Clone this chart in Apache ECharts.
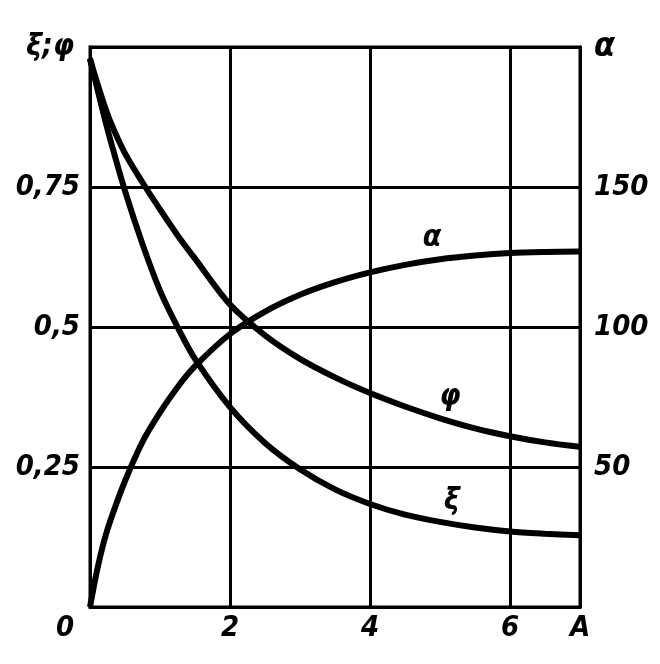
<!DOCTYPE html>
<html>
<head>
<meta charset="utf-8">
<script src="https://cdn.jsdelivr.net/npm/echarts@6/dist/echarts.min.js"></script>
<style>html,body{margin:0;padding:0;background:#fff}#c{width:660px;height:664px}</style>
</head>
<body>
<div id="c"></div>
<script>
// Abscissa (A)
const xVals = [0, 0.1, 0.2, 0.3, 0.5, 0.75, 1, 1.25, 1.5, 2, 2.5, 3, 3.5, 4, 4.5, 5, 5.5, 6, 6.5, 7];
// ξ (left axis)
const xiVals = [0.98, 0.928, 0.877, 0.83, 0.743, 0.648, 0.565, 0.5, 0.443, 0.357, 0.293, 0.246, 0.21, 0.184, 0.165, 0.152, 0.142, 0.135, 0.131, 0.128];
// φ (left axis)
const phiVals = [0.978, 0.937, 0.898, 0.864, 0.81, 0.758, 0.71, 0.664, 0.622, 0.54, 0.485, 0.443, 0.41, 0.382, 0.358, 0.337, 0.319, 0.305, 0.294, 0.286];
// α (right axis)
const alphaVals = [0, 13, 23.5, 31.5, 45, 59, 69.5, 78.5, 86, 97.5, 105.5, 111.5, 116, 119.5, 122.2, 124.2, 125.5, 126.4, 126.8, 127];
// tick labels
const leftTicks = {0.25: '0,25', 0.5: '0,5', 0.75: '0,75'};
const rightTicks = {50: '50', 100: '100', 150: '150'};
const xTicks = {0: '0', 2: '2', 4: '4', 6: '6', 7: 'A'};
const seriesNames = ['ξ', 'φ', 'α'];
const leftName = 'ξ;φ';
const rightName = 'α';
const labelIndex = 15; // point near which curve names are written

const FONT = "'DejaVu Sans Condensed', 'DejaVu Sans', sans-serif";
const txt = {color: '#000', fontFamily: FONT, fontWeight: 'bold', fontStyle: 'italic', fontSize: 29};

function build(ys, name, yAxisIndex, labelOffset) {
  return {
    name: name,
    type: 'line',
    yAxisIndex: yAxisIndex,
    smooth: 0.3,
    symbol: 'circle',
    symbolSize: 0,
    showSymbol: true,
    showAllSymbol: true,
    lineStyle: {color: '#000', width: 6},
    itemStyle: {color: '#000'},
    data: xVals.map((x, i) => {
      const d = {value: [x, ys[i]]};
      if (i === labelIndex) {
        d.label = {show: true, position: 'top', distance: 6, offset: labelOffset, formatter: name, ...txt, fontSize: 30};
      }
      return d;
    })
  };
}

const chart = echarts.init(document.getElementById('c'), null, {renderer: 'canvas'});
chart.setOption({
  backgroundColor: '#fff',
  animation: false,
  grid: {left: 90, top: 47, right: 80, bottom: 57, show: true, borderColor: '#000', borderWidth: 3},
  xAxis: {
    type: 'value', min: 0, max: 7, interval: 2,
    axisLine: {show: true, lineStyle: {color: '#000', width: 3}},
    axisTick: {show: false},
    splitLine: {show: true, lineStyle: {color: '#000', width: 3}},
    axisLabel: {
      margin: 7, ...txt,
      formatter: v => v === 0 ? '{o|0}' : (xTicks[v] || ''),
      rich: {o: {...txt, padding: [0, 50, 0, 0]}}
    }
  },
  yAxis: [{
    type: 'value', min: 0, max: 1, interval: 0.25,
    name: leftName, nameLocation: 'end', nameGap: 0,
    nameTextStyle: {...txt, fontSize: 30, align: 'right', verticalAlign: 'middle', padding: [0, 16, 0, 0]},
    axisLine: {show: true, lineStyle: {color: '#000', width: 3}},
    axisTick: {show: false},
    splitLine: {show: true, lineStyle: {color: '#000', width: 3}},
    axisLabel: {margin: 10, ...txt, formatter: v => leftTicks[v] || ''}
  }, {
    type: 'value', min: 0, max: 200, interval: 50, position: 'right',
    name: rightName, nameLocation: 'end', nameGap: 0,
    nameTextStyle: {...txt, fontSize: 34, align: 'left', verticalAlign: 'middle', padding: [0, 0, 22, 14]},
    axisLine: {show: true, lineStyle: {color: '#000', width: 3}},
    axisTick: {show: false},
    splitLine: {show: false},
    axisLabel: {margin: 14, ...txt, formatter: v => rightTicks[v] || ''}
  }],
  series: [
    build(xiVals, seriesNames[0], 0, [12, 0]),
    build(phiVals, seriesNames[1], 0, [10, 0]),
    build(alphaVals, seriesNames[2], 1, [-8, 0])
  ]
});
</script>
</body>
</html>
